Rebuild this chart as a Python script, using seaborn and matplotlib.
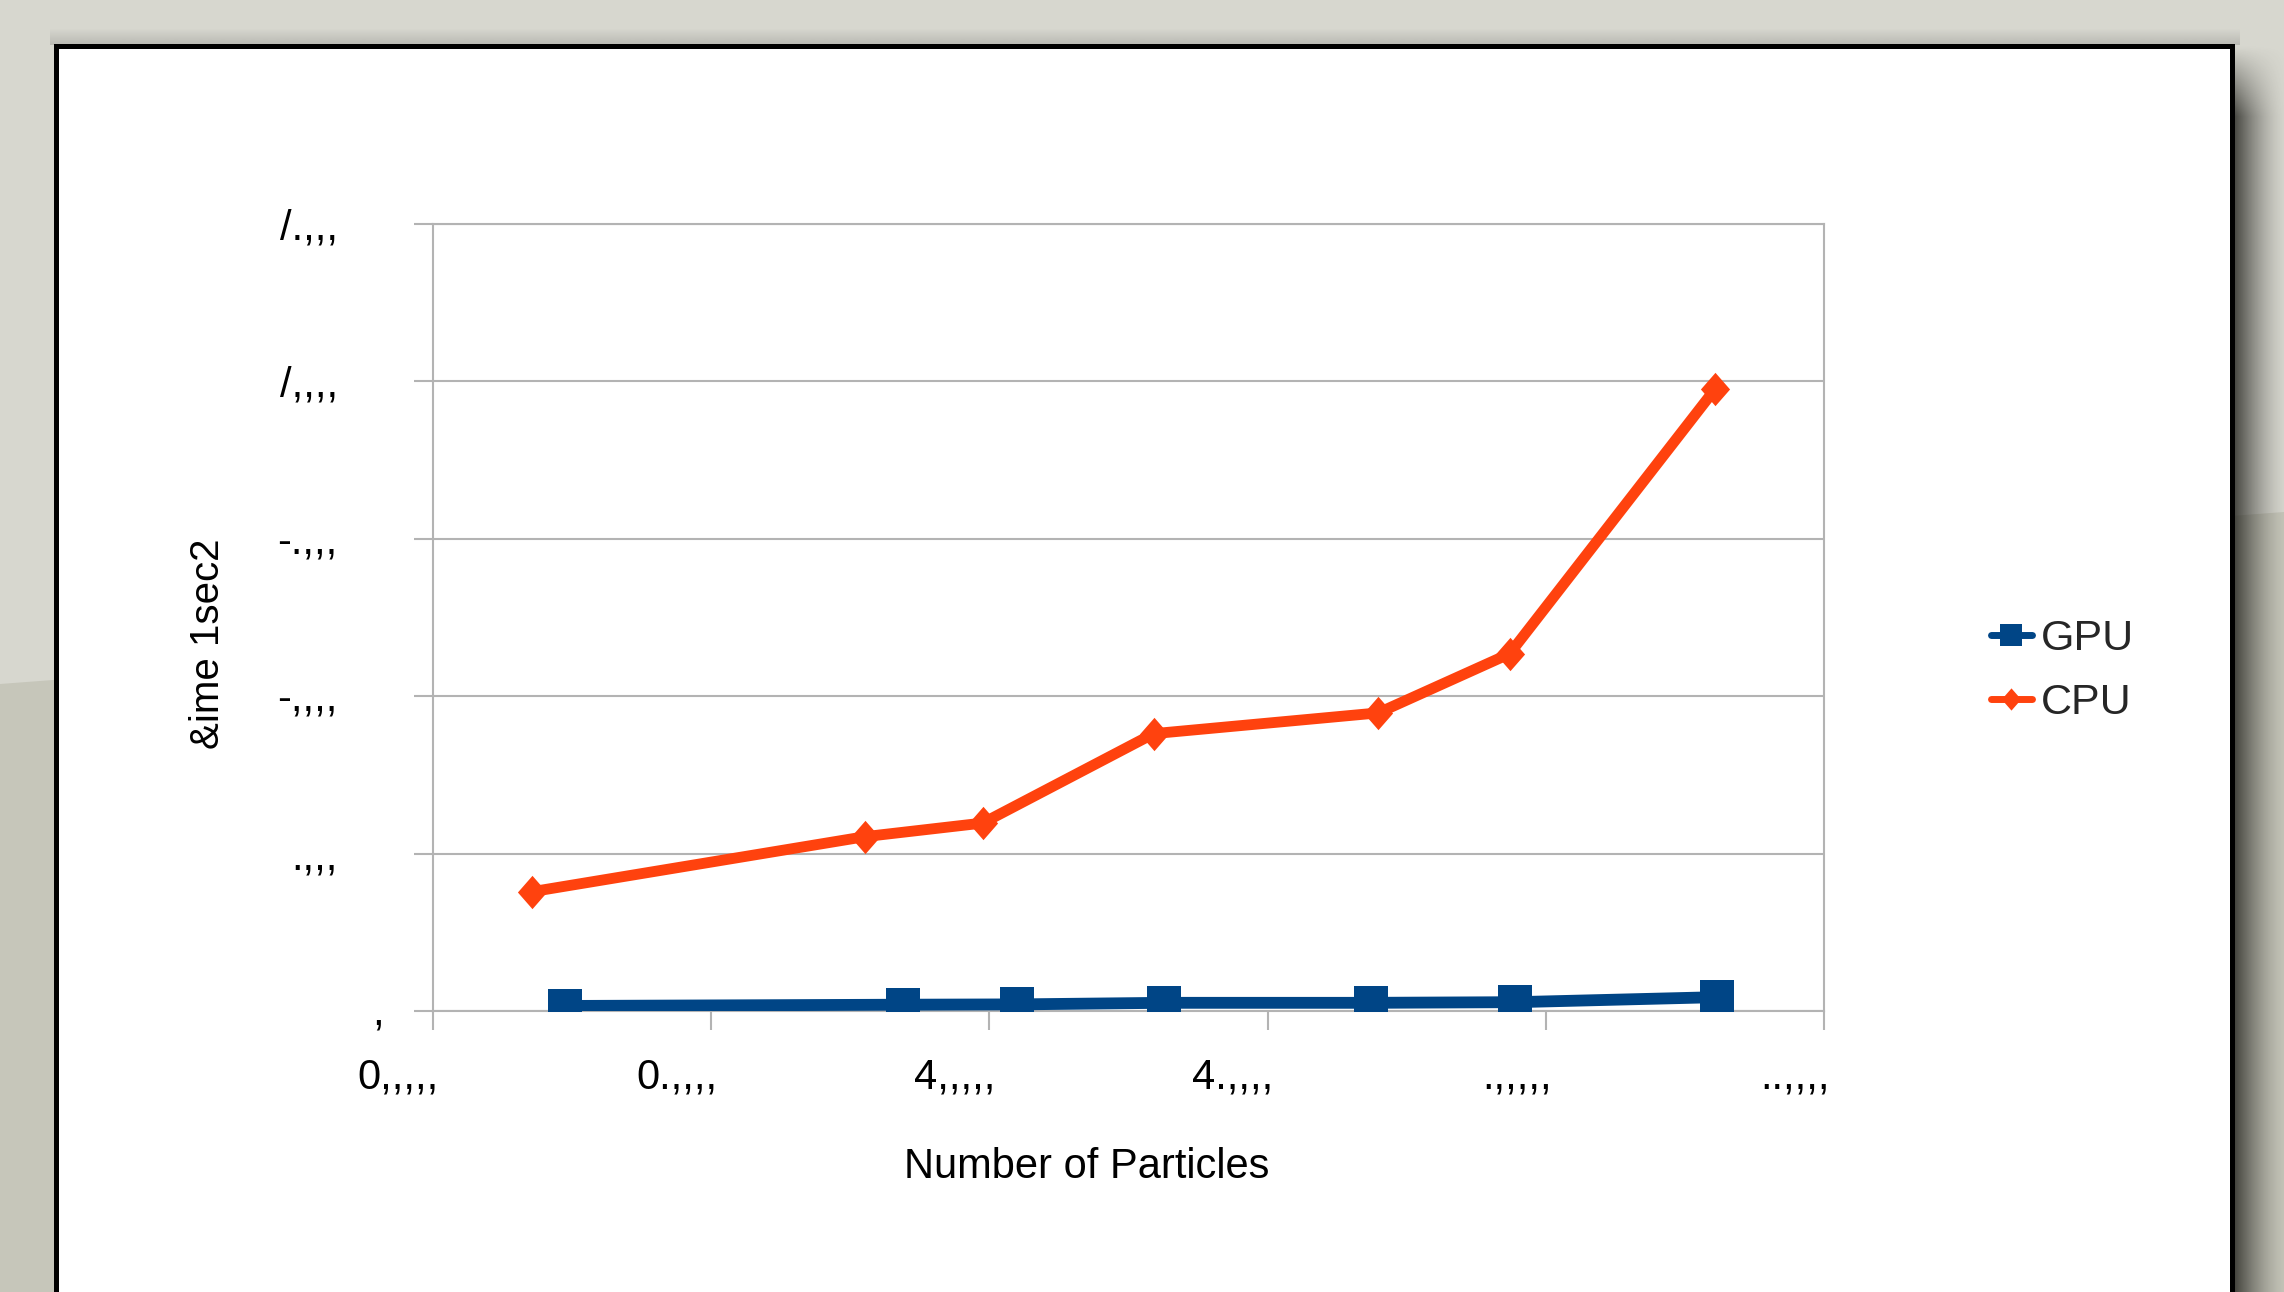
import numpy as np
import pandas as pd
import matplotlib
matplotlib.use("Agg")
import matplotlib.pyplot as plt
import matplotlib.transforms as mtransforms
from matplotlib.lines import Line2D
from matplotlib.patches import Rectangle, Polygon
import seaborn as sns

# ---------------- data ----------------
series_names = ["GPU", "CPU"]
gpu_particles = [123700, 184500, 205000, 231400, 268600, 294500, 330800]
gpu_time = [16, 20, 21, 26, 26, 28, 44]
cpu_particles = [117800, 177700, 198800, 229500, 269900, 293500, 330400]
cpu_time = [379, 554, 597, 881, 947, 1135, 1975]

x_ticks = [100000, 150000, 200000, 250000, 300000, 350000]
x_tick_labels = ["0,,,,,", "0.,,,,", "4,,,,,", "4.,,,,", ".,,,,,", "..,,,,"]
y_ticks = [0, 500, 1000, 1500, 2000, 2500]
y_tick_labels = [",", ".,,,", "-,,,,", "-.,,,", "/,,,,", "/.,,,"]
x_label = "Number of Particles"
y_label = "&ime 1sec2"

# ---------------- styling ----------------
sns.set_style("white")
plt.rcParams["font.family"] = ["Liberation Sans", "DejaVu Sans"]

W, H = 2284, 1292
fig = plt.figure(figsize=(W / 100, H / 100), dpi=100)
fig.patch.set_facecolor("#d7d7cf")

# slide background, shadow and white card (pixel coordinates)
bg = fig.add_axes([0, 0, 1, 1], zorder=-5)
bg.axis("off")
bg.add_patch(Polygon([(0, 684), (W, 512), (W, H), (0, H)], closed=True,
                     facecolor="#c6c6ba", edgecolor="none", zorder=0))
# right drop shadow
nx, ny = 60, 400
xs = np.linspace(0, 1, nx)
yy = np.linspace(40, H, ny)
a_x = 0.85 * (1 - xs) ** 1.6
a_y = np.clip((yy - 45) / 70.0, 0, 1)
shadow = np.zeros((ny, nx, 4))
shadow[..., 0] = 0.13
shadow[..., 1] = 0.13
shadow[..., 2] = 0.11
shadow[..., 3] = a_y[:, None] * a_x[None, :]
bg.imshow(shadow, extent=[2232, 2290, H, 40], origin="upper", aspect="auto",
          interpolation="bilinear", zorder=1)
# faint top shadow
top = np.zeros((20, 2, 4))
top[..., :3] = 0.2
top[..., 3] = np.linspace(0, 0.18, 20)[:, None]
bg.imshow(top, extent=[50, 2240, 45, 28], origin="upper", aspect="auto",
          interpolation="bilinear", zorder=1)
bg.add_patch(Rectangle((56, 45.5), 2176, 1320, facecolor="white",
                       edgecolor="black", linewidth=3.6, zorder=2))
bg.set_xlim(0, W)
bg.set_ylim(H, 0)

# ---------------- main chart ----------------
left, right, top_px, bottom_px = 433, 1824, 224, 1011
ax = fig.add_axes([left / W, 1 - bottom_px / H, (right - left) / W,
                   (bottom_px - top_px) / H], zorder=1)
ax.set_facecolor("white")

gpu_df = pd.DataFrame({"Particles": gpu_particles, "Time": gpu_time})
cpu_df = pd.DataFrame({"Particles": cpu_particles, "Time": cpu_time})

diamond = [(-0.875, 0), (0, 1), (0.875, 0), (0, -1), (-0.875, 0)]
gpu_color = "#004586"
cpu_color = "#ff420e"

sns.lineplot(data=gpu_df, x="Particles", y="Time", ax=ax, color=gpu_color,
             linewidth=8.5, marker="s", markersize=23.8, markeredgewidth=0,
             sort=False, estimator=None, zorder=3)
sns.lineplot(data=cpu_df, x="Particles", y="Time", ax=ax, color=cpu_color,
             linewidth=7.8, marker=diamond, markersize=24, markeredgewidth=0,
             sort=False, estimator=None, zorder=4)

ax.set_xlim(100000, 350000)
ax.set_ylim(0, 2500)
ax.set_xticks(x_ticks, x_tick_labels)
ax.set_yticks(y_ticks, y_tick_labels)

grey = "#b3b3b3"
for sp in ax.spines.values():
    sp.set_visible(True)
    sp.set_color(grey)
    sp.set_linewidth(1.5)
ax.yaxis.grid(True, color=grey, linewidth=1.5)
ax.xaxis.grid(False)
ax.tick_params(axis="both", which="major", bottom=True, left=True,
               direction="out", length=13.5, width=1.5, color=grey,
               labelsize=30, labelcolor="black")
ax.tick_params(axis="y", pad=55)
ax.tick_params(axis="x", pad=20)

off_x = mtransforms.ScaledTranslation(6 / 100, 0, fig.dpi_scale_trans)
for lab in ax.get_xticklabels():
    lab.set_horizontalalignment("right")
    lab.set_transform(lab.get_transform() + off_x)
ylabs = ax.get_yticklabels()
ylabs[0].set_transform(ylabs[0].get_transform() +
                       mtransforms.ScaledTranslation(46 / 100, 2 / 100, fig.dpi_scale_trans))

ax.set_xlabel(x_label, fontsize=30, color="black")
ax.set_ylabel(y_label, fontsize=29, color="black")
ax.xaxis.set_label_coords((1087 - left) / (right - left), (bottom_px - 1147) / (bottom_px - top_px))
ax.yaxis.set_label_coords((226.5 - left) / (right - left), (bottom_px - 643.5) / (bottom_px - top_px))

h_gpu = Line2D([], [], color=gpu_color, linewidth=5, marker="s",
               markersize=16, markeredgewidth=0)
h_cpu = Line2D([], [], color=cpu_color, linewidth=5, marker=diamond,
               markersize=16, markeredgewidth=0)
fig.legend([h_gpu, h_cpu], series_names, loc="center left",
           bbox_to_anchor=(1991 / W, 1 - 671 / H), frameon=False,
           fontsize=31, handlelength=0.95, handletextpad=0.2,
           labelspacing=0.55, borderpad=0, borderaxespad=0)

fig.savefig("out.png", dpi=100, facecolor=fig.get_facecolor())
